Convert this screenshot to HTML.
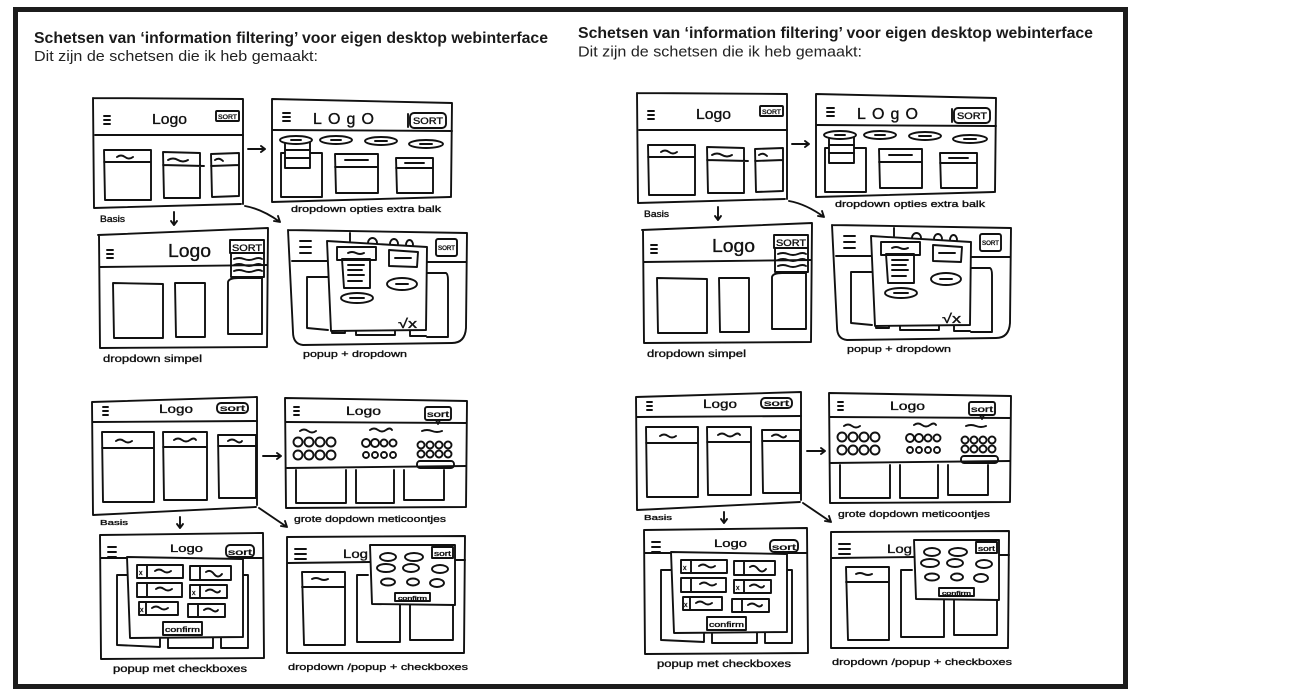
<!DOCTYPE html>
<html><head><meta charset="utf-8">
<style>
html,body{margin:0;padding:0;background:#fff;}
svg{display:block}
</style></head><body>
<svg width="1302" height="696" viewBox="0 0 1302 696" xmlns="http://www.w3.org/2000/svg" xmlns:xlink="http://www.w3.org/1999/xlink">
<rect x="0" y="0" width="1302" height="696" fill="#fff"/>
<rect x="15.5" y="9.5" width="1110" height="677" fill="none" stroke="#1c1c1c" stroke-width="5"/>

<g font-family="Liberation Sans, Arial, sans-serif">
<text x="34" y="43" font-weight="bold" font-size="15.5" fill="#1a1a1a" textLength="514" lengthAdjust="spacingAndGlyphs">Schetsen van ‘information filtering’ voor eigen desktop webinterface</text>
<text x="34" y="61" font-size="14.5" fill="#222" textLength="284" lengthAdjust="spacingAndGlyphs">Dit zijn de schetsen die ik heb gemaakt:</text>
<text x="578" y="38" font-weight="bold" font-size="15.5" fill="#1a1a1a" textLength="515" lengthAdjust="spacingAndGlyphs">Schetsen van ‘information filtering’ voor eigen desktop webinterface</text>
<text x="578" y="56.5" font-size="14.5" fill="#222" textLength="284" lengthAdjust="spacingAndGlyphs">Dit zijn de schetsen die ik heb gemaakt:</text>
</g>

<defs>
<g id="sk" stroke="#111" stroke-width="1.9" fill="none" stroke-linecap="round" stroke-linejoin="round">
  <!-- A: Basis -->
  <path d="M93,98 L243,99 L243,204 M93,98 L94,208 L241,204"/>
  <path d="M95,135 L243,135"/>
  <path d="M104,116 H110 M104,120 H110 M104,124 H110"/>
  <rect x="216" y="111" width="23" height="10" rx="1"/>
  <path d="M104,150 H151 V200 H105 Z M104,162 H151 M117,157 q4,-3 8,0 t8,0"/>
  <path d="M163,152 L200,153 L200,198 L164,198 Z M163,165 L204,166 M168,160 q5,-3 10,0 t10,0"/>
  <path d="M211,154 L239,153 L239,196 L212,197 Z M211,166 L239,165 M215,160 q4,-3 8,1"/>
  <path d="M248,149 H265 M261,146 L265,149 L261,152"/>
  <path d="M174,212 V225 M171,221 L174,225 L177,221"/>
  <path d="M245,206 Q262,209 280,222 M274,221 L280,222 L278,216"/>

  <!-- B: dropdown opties extra balk -->
  <path d="M272,99 L452,103 L451,197 M272,99 L272,202 L450,197"/>
  <path d="M273,130 L452,131"/>
  <path d="M283,113 H290 M283,117 H290 M283,121 H290"/>
  <path d="M408,114 V127"/>
  <rect x="410" y="113" width="36" height="15" rx="4"/>
  <rect x="281" y="153" width="41" height="44"/>
  <path d="M335,154 H378 V193 H336 Z M335,167 H378 M345,160 H368"/>
  <path d="M396,158 H433 V193 H397 Z M396,168 H433 M405,163 H424"/>
  <rect x="285" y="142" width="25" height="26" fill="#fff"/>
  <path d="M285,150 H310 M285,158 H310"/>
  <ellipse cx="296" cy="140" rx="16" ry="4" fill="#fff"/>
  <ellipse cx="336" cy="140" rx="16" ry="4"/>
  <ellipse cx="381" cy="141" rx="16" ry="4"/>
  <ellipse cx="426" cy="144" rx="17" ry="4"/>
  <path d="M291,140 H301 M331,140 H341 M375,141 H387 M420,144 H432"/>

  <!-- C: dropdown simpel -->
  <path d="M98,235 L268,228 L267,347 M99,235 L100,348 L267,347"/>
  <path d="M100,267 L267,265"/>
  <path d="M107,250 H113 M107,254 H113 M107,258 H113"/>
  <rect x="230" y="240" width="34" height="13"/>
  <path d="M231,253 V277 H264 V253 M234,259 q5,-2 10,0 t10,0 t8,0 M234,265 q5,-2 10,0 t10,0 t8,0 M234,271 q5,-2 10,0 t10,0 t8,0"/>
  <path d="M113,283 L163,284 L163,338 L114,338 Z"/>
  <path d="M175,283 H205 V337 H176 Z"/>
  <path d="M228,282 Q229,278 238,278 H262 V334 H228 Z"/>

  <!-- D: popup + dropdown -->
  <path d="M288,230 L467,233 L466,328 Q465,343 452,343 L303,345 Q293,344 293,332 L288,230"/>
  <path d="M292,261 H328 M427,262 H466"/>
  <path d="M300,241 H311 M300,247 H311 M300,253 H311"/>
  <rect x="436" y="239" width="21" height="17" rx="2"/>
  <path d="M328,277 H307 V328 L328,330"/>
  <path d="M427,273 H446 Q448,274 448,280 V337 H427"/>
  <path d="M332,330 V333 H345 V331 M356,331 V335 H395 V331 M410,331 V336 H426"/>
  <path d="M350,233 V241 M368,243 a4.5,5 0 0 1 9,0 M390,244 a4,5 0 0 1 8,0 M406,245 a3.5,5 0 0 1 7,0"/>
  <path d="M327,241 L427,247 L426,330 L331,331 Z" fill="#fff"/>
  <rect x="337" y="247" width="39" height="13"/>
  <path d="M348,253 q4,-2 8,0 t8,0"/>
  <path d="M342,259 H370 V288 H344 Z M348,265 H364 M348,270 H362 M348,275 H364 M348,281 H362"/>
  <path d="M389,250 L418,252 L417,267 L389,266 Z M395,258 H411"/>
  <ellipse cx="402" cy="284" rx="15" ry="6"/>
  <path d="M396,284 H408"/>
  <ellipse cx="357" cy="298" rx="16" ry="5"/>
  <path d="M350,298 H364"/>

  <!-- E: Basis (bottom) -->
  <path d="M92,402 L257,397 L257,505 M92,402 L93,515 L256,507"/>
  <path d="M93,422 L257,421"/>
  <path d="M103,407 H108 M103,411 H108 M103,415 H108"/>
  <rect x="217" y="403" width="31" height="10" rx="4"/>
  <path d="M102,432 H154 V502 H103 Z M102,448 H154 M116,441 q4,-3 8,0 t8,0"/>
  <path d="M163,432 H207 V500 H164 Z M163,447 H207 M174,440 q4,-3 8,0 t8,0 t6,0"/>
  <path d="M218,435 H256 V498 H219 Z M218,446 H256 M228,441 q4,-3 8,0 t6,0"/>
  <path d="M263,456 H281 M277,453 L281,456 L277,459"/>
  <path d="M180,517 V528 M177,524 L180,528 L183,524"/>
  <path d="M259,508 L287,527 M281,526 L287,527 L285,521"/>

  <!-- F: grote dropdown met icoontjes -->
  <path d="M285,398 L467,401 L466,507 M285,398 L286,508 L466,507"/>
  <path d="M286,422 L466,423"/>
  <path d="M294,407 H299 M294,411 H299 M294,415 H299"/>
  <rect x="425" y="407" width="26" height="13" rx="2"/>
  <path d="M436,420 L438,424 L440,420"/>
  <path d="M300,431 q4,-3 8,0 t8,0 M370,430 q4,-3 8,0 t8,0 t6,0 M422,431 q5,-2 10,0 t10,0"/>
  <circle cx="298" cy="442" r="4.5"/><circle cx="309" cy="442" r="4.5"/><circle cx="320" cy="442" r="4.5"/><circle cx="331" cy="442" r="4.5"/>
  <circle cx="298" cy="455" r="4.5"/><circle cx="309" cy="455" r="4.5"/><circle cx="320" cy="455" r="4.5"/><circle cx="331" cy="455" r="4.5"/>
  <circle cx="366" cy="443" r="4"/><circle cx="375" cy="443" r="4"/><circle cx="384" cy="443" r="3.5"/><circle cx="393" cy="443" r="3.5"/>
  <circle cx="366" cy="455" r="3"/><circle cx="375" cy="455" r="3"/><circle cx="384" cy="455" r="3"/><circle cx="393" cy="455" r="3"/>
  <circle cx="421" cy="445" r="3.5"/><circle cx="430" cy="445" r="3.5"/><circle cx="439" cy="445" r="3.5"/><circle cx="448" cy="445" r="3.5"/>
  <circle cx="421" cy="454" r="3.5"/><circle cx="430" cy="454" r="3.5"/><circle cx="439" cy="454" r="3.5"/><circle cx="448" cy="454" r="3.5"/>
  <rect x="417" y="461" width="37" height="7" rx="3"/>
  <path d="M287,468 L466,466"/>
  <path d="M296,470 V503 H346 V470 M356,470 V503 H394 V470 M404,470 V500 H444 V470"/>

  <!-- G: popup met checkboxes -->
  <path d="M100,535 L263,533 L264,658 M100,535 L101,659 L264,658"/>
  <path d="M101,558 H128 M243,558 H263"/>
  <path d="M108,547 H116 M108,552 H116 M108,557 H116"/>
  <rect x="226" y="545" width="28" height="12" rx="4"/>
  <path d="M128,575 H117 V645 L160,647 V637 M168,637 V648 H213 V637 M221,637 V648 H248 V575 H243"/>
  <path d="M127,557 L243,559 L243,637 L130,638 Z" fill="#fff"/>
  <path d="M137,565 H183 V578 H137 Z M147,565 V578 M155,571 q4,-3 8,0 t8,0"/>
  <path d="M190,566 H231 V580 H190 Z M200,566 V580 M206,572 q4,-3 8,2 t8,0"/>
  <path d="M137,583 H182 V597 H137 Z M147,583 V597 M156,589 q4,-3 8,0 t8,0"/>
  <path d="M190,585 H227 V598 H190 Z M200,585 V598 M206,591 q4,-3 8,0 t6,0"/>
  <path d="M139,602 H178 V615 H139 Z M146,602 V615 M152,608 q4,-3 8,0 t8,0"/>
  <path d="M188,604 H225 V617 H188 Z M198,604 V617 M204,610 q4,-3 8,0 t6,0"/>
  <rect x="163" y="622" width="39" height="13"/>

  <!-- H: dropdown/popup + checkboxes -->
  <path d="M287,537 L465,536 L464,653 M287,537 L287,653 L464,653"/>
  <path d="M288,563 L370,562 M455,560 H465"/>
  <path d="M295,549 H306 M295,554 H306 M295,559 H306"/>
  <path d="M302,572 L345,572 L345,645 L304,645 Z M302,587 H345 M312,579 q4,-2 8,0 t8,0"/>
  <path d="M357,575 H368 M357,575 V642 H400 V604 M410,605 V640 H453 V605"/>
  <path d="M370,545 L455,545 L455,605 L372,604 Z" fill="#fff"/>
  <rect x="432" y="547" width="21" height="11"/>
  <ellipse cx="388" cy="557" rx="8" ry="4"/><ellipse cx="414" cy="557" rx="9" ry="4"/>
  <ellipse cx="386" cy="568" rx="9" ry="4"/><ellipse cx="411" cy="568" rx="8" ry="4"/><ellipse cx="440" cy="569" rx="8" ry="4"/>
  <ellipse cx="388" cy="582" rx="7" ry="3.5"/><ellipse cx="413" cy="582" rx="6" ry="3.5"/><ellipse cx="437" cy="583" rx="7" ry="4"/>
  <rect x="395" y="593" width="35" height="8"/>
</g>
</defs>

<use xlink:href="#sk" href="#sk"/>
<use xlink:href="#sk" href="#sk" transform="translate(544,-5)"/>

<g font-family="Liberation Sans, Arial, sans-serif" fill="#111" stroke="#111" stroke-width="0.35">
  <text x="152" y="124" font-size="15" textLength="35" lengthAdjust="spacingAndGlyphs">Logo</text>
  <text x="218" y="119" font-size="6.5" textLength="19" lengthAdjust="spacingAndGlyphs">SORT</text>
  <text x="100" y="222" font-size="9" textLength="25" lengthAdjust="spacingAndGlyphs">Basis</text>
  <text x="313" y="124" font-size="16" textLength="61" lengthAdjust="spacing">LOgO</text>
  <text x="413" y="124" font-size="9" textLength="30" lengthAdjust="spacingAndGlyphs">SORT</text>
  <text x="291" y="212" font-size="9" textLength="150" lengthAdjust="spacingAndGlyphs">dropdown opties extra balk</text>
  <text x="168" y="257" font-size="18" textLength="43" lengthAdjust="spacingAndGlyphs">Logo</text>
  <text x="232" y="251" font-size="9" textLength="30" lengthAdjust="spacingAndGlyphs">SORT</text>
  <text x="103" y="362" font-size="10" textLength="99" lengthAdjust="spacingAndGlyphs">dropdown simpel</text>
  <text x="438" y="250" font-size="6" textLength="17" lengthAdjust="spacingAndGlyphs">SORT</text>
  <text x="398" y="328" font-size="13" textLength="19" lengthAdjust="spacingAndGlyphs">√x</text>
  <text x="303" y="357" font-size="9.5" textLength="104" lengthAdjust="spacingAndGlyphs">popup + dropdown</text>
  <text x="159" y="413" font-size="12" textLength="34" lengthAdjust="spacingAndGlyphs">Logo</text>
  <text x="220" y="411" font-size="8" textLength="25" lengthAdjust="spacingAndGlyphs">sort</text>
  <text x="100" y="525" font-size="7" textLength="28" lengthAdjust="spacingAndGlyphs">Basis</text>
  <text x="346" y="415" font-size="12" textLength="35" lengthAdjust="spacingAndGlyphs">Logo</text>
  <text x="427" y="417" font-size="8" textLength="22" lengthAdjust="spacingAndGlyphs">sort</text>
  <text x="294" y="522" font-size="9" textLength="152" lengthAdjust="spacingAndGlyphs">grote dopdown meticoontjes</text>
  <text x="170" y="552" font-size="11" textLength="33" lengthAdjust="spacingAndGlyphs">Logo</text>
  <text x="228" y="555" font-size="8" textLength="24" lengthAdjust="spacingAndGlyphs">sort</text>
  <text x="139" y="575" font-size="7">x</text>
  <text x="192" y="595" font-size="7">x</text>
  <text x="140" y="612" font-size="7">x</text>
  <text x="165" y="632" font-size="7" textLength="35" lengthAdjust="spacingAndGlyphs">confirm</text>
  <text x="113" y="672" font-size="10" textLength="134" lengthAdjust="spacingAndGlyphs">popup met checkboxes</text>
  <text x="343" y="558" font-size="12" textLength="25" lengthAdjust="spacingAndGlyphs">Log</text>
  <text x="434" y="556" font-size="7" textLength="17" lengthAdjust="spacingAndGlyphs">sort</text>
  <text x="398" y="600" font-size="5" textLength="29" lengthAdjust="spacingAndGlyphs">confirm</text>
  <text x="288" y="670" font-size="9.5" textLength="180" lengthAdjust="spacingAndGlyphs">dropdown /popup + checkboxes</text>
</g>

<g font-family="Liberation Sans, Arial, sans-serif" fill="#111" stroke="#111" stroke-width="0.35" transform="translate(544,-5)">
  <text x="152" y="124" font-size="15" textLength="35" lengthAdjust="spacingAndGlyphs">Logo</text>
  <text x="218" y="119" font-size="6.5" textLength="19" lengthAdjust="spacingAndGlyphs">SORT</text>
  <text x="100" y="222" font-size="9" textLength="25" lengthAdjust="spacingAndGlyphs">Basis</text>
  <text x="313" y="124" font-size="16" textLength="61" lengthAdjust="spacing">LOgO</text>
  <text x="413" y="124" font-size="9" textLength="30" lengthAdjust="spacingAndGlyphs">SORT</text>
  <text x="291" y="212" font-size="9" textLength="150" lengthAdjust="spacingAndGlyphs">dropdown opties extra balk</text>
  <text x="168" y="257" font-size="18" textLength="43" lengthAdjust="spacingAndGlyphs">Logo</text>
  <text x="232" y="251" font-size="9" textLength="30" lengthAdjust="spacingAndGlyphs">SORT</text>
  <text x="103" y="362" font-size="10" textLength="99" lengthAdjust="spacingAndGlyphs">dropdown simpel</text>
  <text x="438" y="250" font-size="6" textLength="17" lengthAdjust="spacingAndGlyphs">SORT</text>
  <text x="398" y="328" font-size="13" textLength="19" lengthAdjust="spacingAndGlyphs">√x</text>
  <text x="303" y="357" font-size="9.5" textLength="104" lengthAdjust="spacingAndGlyphs">popup + dropdown</text>
  <text x="159" y="413" font-size="12" textLength="34" lengthAdjust="spacingAndGlyphs">Logo</text>
  <text x="220" y="411" font-size="8" textLength="25" lengthAdjust="spacingAndGlyphs">sort</text>
  <text x="100" y="525" font-size="7" textLength="28" lengthAdjust="spacingAndGlyphs">Basis</text>
  <text x="346" y="415" font-size="12" textLength="35" lengthAdjust="spacingAndGlyphs">Logo</text>
  <text x="427" y="417" font-size="8" textLength="22" lengthAdjust="spacingAndGlyphs">sort</text>
  <text x="294" y="522" font-size="9" textLength="152" lengthAdjust="spacingAndGlyphs">grote dopdown meticoontjes</text>
  <text x="170" y="552" font-size="11" textLength="33" lengthAdjust="spacingAndGlyphs">Logo</text>
  <text x="228" y="555" font-size="8" textLength="24" lengthAdjust="spacingAndGlyphs">sort</text>
  <text x="139" y="575" font-size="7">x</text>
  <text x="192" y="595" font-size="7">x</text>
  <text x="140" y="612" font-size="7">x</text>
  <text x="165" y="632" font-size="7" textLength="35" lengthAdjust="spacingAndGlyphs">confirm</text>
  <text x="113" y="672" font-size="10" textLength="134" lengthAdjust="spacingAndGlyphs">popup met checkboxes</text>
  <text x="343" y="558" font-size="12" textLength="25" lengthAdjust="spacingAndGlyphs">Log</text>
  <text x="434" y="556" font-size="7" textLength="17" lengthAdjust="spacingAndGlyphs">sort</text>
  <text x="398" y="600" font-size="5" textLength="29" lengthAdjust="spacingAndGlyphs">confirm</text>
  <text x="288" y="670" font-size="9.5" textLength="180" lengthAdjust="spacingAndGlyphs">dropdown /popup + checkboxes</text>
</g>
</svg>
</body></html>
